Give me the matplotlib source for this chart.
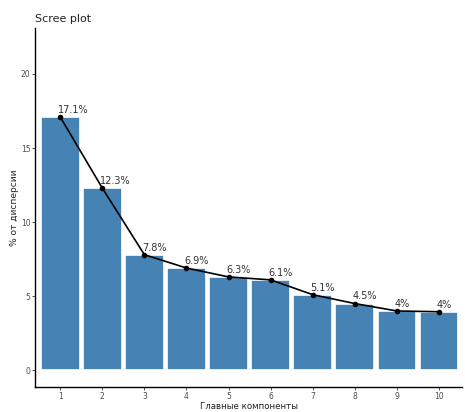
import numpy as np
import matplotlib
matplotlib.use("Agg")
import matplotlib.pyplot as plt

# explained variance per principal component (%)
components = [1, 2, 3, 4, 5, 6, 7, 8, 9, 10]
variance = [17.1, 12.3, 7.8, 6.9, 6.3, 6.1, 5.1, 4.5, 4.0, 3.95]
labels = ["17.1%", "12.3%", "7.8%", "6.9%", "6.3%", "6.1%", "5.1%", "4.5%", "4%", "4%"]

fig = plt.figure(figsize=(4.65, 4.12), dpi=100)
ax = fig.add_axes([0.076, 0.06, 0.918, 0.872])

# bars with white outline like ggplot
ax.bar(components, variance, width=0.92, color="#4682B4", edgecolor="white", linewidth=1.2, zorder=1)

# line and points on top
ax.plot(components, variance, color="black", linewidth=1.2, zorder=3)
ax.scatter(components, variance, color="black", s=9, zorder=4)

# percentage labels above the points
for x, y, lab in zip(components, variance, labels):
    ax.annotate(lab, (x, y), xytext=(-1.5, 1.5), textcoords="offset points",
                ha="left", va="bottom", fontsize=7, color="#333333", zorder=5)

ax.set_xlim(0.41, 10.55)
ax.set_ylim(-1.15, 23.1)
ax.set_xticks(components)
ax.set_yticks([0, 5, 10, 15, 20])
ax.tick_params(labelsize=5.5, labelcolor="#4d4d4d", color="#333333", length=2, width=0.6, pad=1.5)

for side in ["top", "right"]:
    ax.spines[side].set_visible(False)
for side in ["left", "bottom"]:
    ax.spines[side].set_linewidth(1.0)

ax.set_title("Scree plot", fontsize=8, loc="left", x=0.0, pad=4, color="#222222")
ax.set_xlabel("Главные компоненты", fontsize=6.2, labelpad=0.5, color="#222222")
ax.set_ylabel("% от дисперсии", fontsize=6.5, labelpad=1, color="#222222")

plt.savefig("out.png", dpi=100)
